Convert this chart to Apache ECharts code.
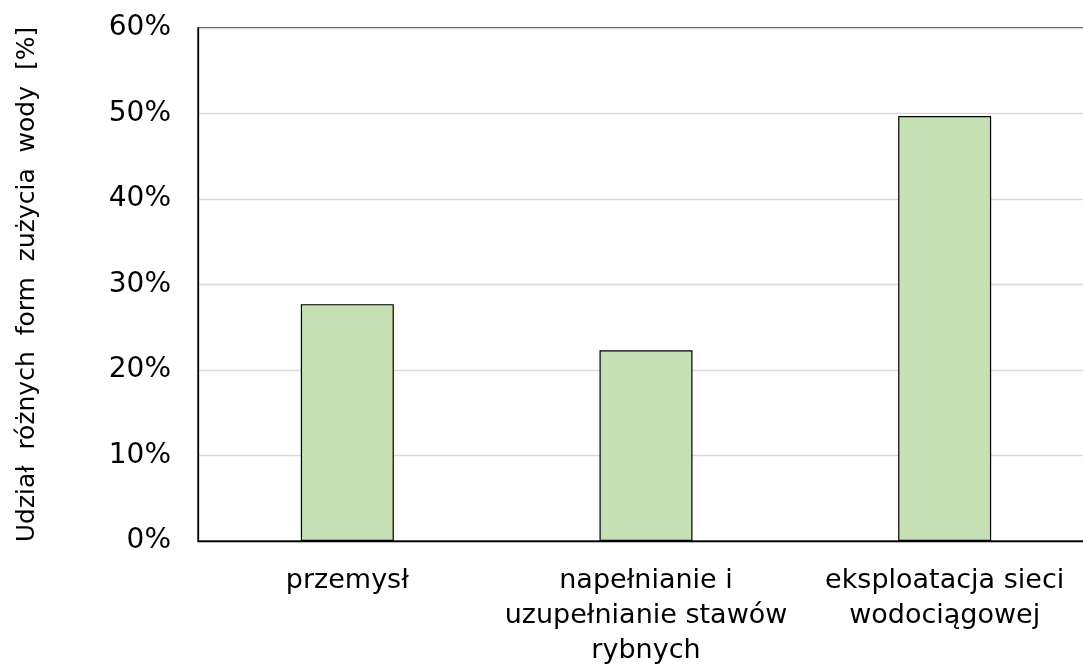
<!DOCTYPE html>
<html>
<head>
<meta charset="utf-8">
<script src="https://cdn.jsdelivr.net/npm/echarts@6/dist/echarts.min.js"></script>
<style>
  html, body { margin: 0; padding: 0; background: #fff; }
  #chart { width: 1083px; height: 668px; }
</style>
</head>
<body>
<div id="chart"></div>
<script>
var categories = ['przemysł', 'napełnianie i\nuzupełnianie stawów\nrybnych', 'eksploatacja sieci\nwodociągowej'];
var shares = [0.277, 0.223, 0.497];
var yTicks = [0, 0.1, 0.2, 0.3, 0.4, 0.5, 0.6];

var font = 'DejaVu Sans';
var chart = echarts.init(document.getElementById('chart'));

chart.setOption({
  animation: false,
  grid: {
    left: 198, right: -11, top: 28, bottom: 127,
    outerBoundsMode: 'none',
    show: true, borderColor: '#000', borderWidth: 1.3,
    backgroundColor: 'transparent'
  },
  xAxis: {
    type: 'category',
    data: categories,
    axisTick: { show: false },
    axisLine: { lineStyle: { color: '#000', width: 1.3 } },
    axisLabel: {
      color: '#000', fontFamily: font, fontSize: 27,
      lineHeight: 35, margin: 22, interval: 0
    }
  },
  yAxis: {
    type: 'value',
    min: yTicks[0],
    max: yTicks[yTicks.length - 1],
    interval: 0.1,
    name: 'Udział  różnych  form  zużycia  wody  [%]',
    nameLocation: 'middle',
    nameGap: 158,
    nameTextStyle: { color: '#000', fontFamily: font, fontSize: 25 },
    axisLine: { show: true, lineStyle: { color: '#000', width: 1.3 } },
    axisTick: { show: false },
    splitLine: { lineStyle: { color: '#d9d9d9', width: 1.3 } },
    axisLabel: {
      color: '#000', fontFamily: font, fontSize: 28, margin: 27,
      formatter: function (v) { return Math.round(v * 100) + '%'; }
    }
  },
  series: [{
    type: 'bar',
    data: shares,
    barWidth: 93,
    itemStyle: { color: '#c5e0b4', borderColor: '#000', borderWidth: 1.2 }
  }]
});
</script>
</body>
</html>
